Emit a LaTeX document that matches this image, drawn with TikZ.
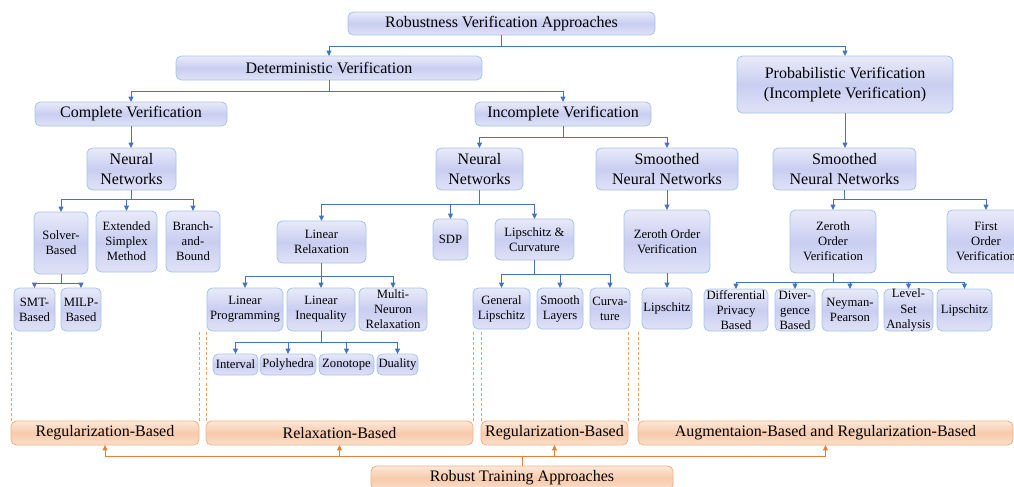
\documentclass[tikz,border=0pt]{standalone}
\usepackage{fontspec}
\setmainfont{Liberation Serif}
\usetikzlibrary{arrows.meta}
\definecolor{bfillA}{HTML}{E9EBF9}
\definecolor{bfillB}{HTML}{C9CEF1}
\definecolor{bdraw}{HTML}{A7C3EA}
\definecolor{bline}{HTML}{4472C4}
\definecolor{ofillA}{HTML}{FCE8DA}
\definecolor{ofillB}{HTML}{F8CAAB}
\definecolor{odraw}{HTML}{F4B183}
\definecolor{oline}{HTML}{ED7D31}
\definecolor{txt}{HTML}{000000}
\tikzset{
  basebox/.style={rounded corners=4pt, inner sep=0pt, outer sep=0pt, align=center, text=txt, line width=0.6pt},
  bbox/.style={basebox, draw=bdraw, top color=bfillA, bottom color=bfillA!70!bfillB, middle color=bfillB},
  obox/.style={basebox, draw=odraw, top color=ofillA, bottom color=ofillA!70!ofillB, middle color=ofillB},
  bigtxt/.style={font=\fontsize{12}{14.5}\selectfont},
  smalltxt/.style={font=\fontsize{9.5}{11.3}\selectfont},
  conn/.style={draw=bline, line width=0.75pt, -{Triangle[length=4pt,width=3.6pt]}},
  oconn/.style={draw=oline, line width=0.75pt, -{Triangle[length=4pt,width=3.6pt]}},
  dashline/.style={draw=oline!75, line width=0.75pt, dash pattern=on 2.2pt off 1.6pt},
}
% \bx{style}{x1}{y1}{x2}{y2}{name}{text}
\newcommand\bx[7]{\node[#1, minimum width={(#4-#2)*0.75pt}, minimum height={(#5-#3)*0.75pt}, anchor=center] (#6) at ({(#2+#4)/2},{(#3+#5)/2}) {#7};}
\begin{document}
\begin{tikzpicture}[x=0.75pt, y=-0.75pt]
\useasboundingbox (0,0) rectangle (1014,486);
% level 0-1
\bx{bbox,bigtxt}{348}{12}{655}{35}{root}{Robustness Verification Approaches}
\bx{bbox,bigtxt}{176}{56}{482}{80}{det}{Deterministic Verification}
\bx{bbox,bigtxt}{737}{56}{953}{113}{prob}{Probabilistic Verification\\(Incomplete Verification)}
\bx{bbox,bigtxt}{35}{102}{227}{126}{comp}{Complete Verification}
\bx{bbox,bigtxt}{475}{102}{651}{126}{incomp}{Incomplete Verification}
% networks
\bx{bbox,bigtxt}{87}{148}{176}{190}{nn1}{Neural\\Networks}
\bx{bbox,bigtxt}{436}{148}{523}{190}{nn2}{Neural\\Networks}
\bx{bbox,bigtxt}{596}{148}{738}{190}{snn1}{Smoothed\\Neural Networks}
\bx{bbox,bigtxt}{773}{148}{916}{190}{snn2}{Smoothed\\Neural Networks}
% complete branch
\bx{bbox,smalltxt}{34}{212}{88}{274}{solver}{Solver-\\Based}
\bx{bbox,smalltxt}{96}{211}{157}{272}{ext}{Extended\\Simplex\\Method}
\bx{bbox,smalltxt}{166}{211}{220}{272}{bnb}{Branch-\\and-\\Bound}
\bx{bbox,smalltxt}{14}{288}{55}{331}{smt}{SMT-\\Based}
\bx{bbox,smalltxt}{61}{288}{101}{331}{milp}{MILP-\\Based}
% incomplete NN branch
\bx{bbox,smalltxt}{277}{221}{366}{263}{linrel}{Linear\\Relaxation}
\bx{bbox,smalltxt}{433}{219}{468}{260}{sdp}{SDP}
\bx{bbox,smalltxt}{495}{219}{574}{260}{lipcurv}{Lipschitz \&\\Curvature}
\bx{bbox,smalltxt}{207}{288}{283}{331}{linprog}{Linear\\Programming}
\bx{bbox,smalltxt}{287}{288}{355}{331}{linineq}{Linear\\Inequality}
\bx{bbox,smalltxt}{359}{288}{427}{331}{multi}{Multi-\\Neuron\\Relaxation}
\bx{bbox,smalltxt}{213}{354}{258}{375}{interval}{Interval}
\bx{bbox,smalltxt}{260}{354}{316}{375}{poly}{Polyhedra}
\bx{bbox,smalltxt}{319}{354}{374}{375}{zono}{Zonotope}
\bx{bbox,smalltxt}{377}{354}{418}{375}{dual}{Duality}
\bx{bbox,smalltxt}{473}{288}{530}{329}{genlip}{General\\Lipschitz}
\bx{bbox,smalltxt}{537}{288}{583}{329}{smooth}{Smooth\\Layers}
\bx{bbox,smalltxt}{590}{288}{630}{329}{curv}{Curva-\\ture}
% smoothed (incomplete)
\bx{bbox,smalltxt}{624}{210}{710}{273}{zero1}{Zeroth Order\\Verification}
\bx{bbox,smalltxt}{642}{288}{692}{329}{lip1}{Lipschitz}
% probabilistic
\bx{bbox,smalltxt}{790}{210}{876}{273}{zero2}{Zeroth\\Order\\Verification}
\bx{bbox,smalltxt}{947}{210}{1025}{273}{first}{First\\Order\\Verification}
\bx{bbox,smalltxt}{704}{289}{768}{331}{dp}{Differential\\Privacy\\Based}
\bx{bbox,smalltxt}{775}{289}{815}{331}{div}{Diver-\\gence\\Based}
\bx{bbox,smalltxt}{822}{289}{878}{331}{np}{Neyman-\\Pearson}
\bx{bbox,smalltxt}{884}{289}{933}{331}{lsa}{Level-\\Set\\Analysis}
\bx{bbox,smalltxt}{937}{289}{992}{331}{lip2}{Lipschitz}
% training
\bx{obox,bigtxt}{11}{421}{199}{445}{reg1}{Regularization-Based}
\bx{obox,bigtxt}{206}{421}{473}{445}{relax}{Relaxation-Based}
\bx{obox,bigtxt}{481}{421}{628}{445}{reg2}{Regularization-Based}
\bx{obox,bigtxt}{638}{421}{1013}{445}{aug}{Augmentaion-Based and Regularization-Based}
\bx{obox,bigtxt}{371}{466}{673}{490}{rta}{Robust Training Approaches}
% blue connectors
\draw[conn] (root.south) -- ++(0,11) -| (det.north);
\draw[conn] (root.south) -- ++(0,11) -| (prob.north);
\draw[conn] (det.south) -- ++(0,11) -| (comp.north);
\draw[conn] (det.south) -- ++(0,11) -| (incomp.north);
\draw[conn] (comp.south) -- (comp.south |- nn1.north);
\draw[conn] (incomp.south) -- ++(0,11) -| (nn2.north);
\draw[conn] (incomp.south) -- ++(0,11) -| (snn1.north);
\draw[conn] (prob.south) -- (prob.south |- snn2.north);
\foreach \c in {solver,ext,bnb} \draw[conn] (nn1.south) -- ++(0,9) -| (\c.north);
\foreach \c in {smt,milp} \draw[conn] (solver.south) -- ++(0,9) -| (\c.north);
\foreach \c in {linrel,sdp,lipcurv} \draw[conn] (nn2.south) -- ++(0,14) -| (\c.north);
\foreach \c in {linprog,linineq,multi} \draw[conn] (linrel.south) -- ++(0,13) -| (\c.north);
\foreach \c in {interval,poly,zono,dual} \draw[conn] (linineq.south) -- ++(0,11) -| (\c.north);
\foreach \c in {genlip,smooth,curv} \draw[conn] (lipcurv.south) -- ++(0,14) -| (\c.north);
\draw[conn] (snn1.south) -- (snn1.south |- zero1.north);
\draw[conn] (zero1.south) -- (zero1.south |- lip1.north);
\foreach \c in {zero2,first} \draw[conn] (snn2.south) -- ++(0,9) -| (\c.north);
\foreach \c in {dp,div,np,lsa,lip2} \draw[conn] (zero2.south) -- ++(0,9) -| (\c.north);
% orange connectors
\foreach \c in {reg1,relax,reg2,aug} \draw[oconn] (rta.north) -- ++(0,-10) -| (\c.south);
% dashed separators
\draw[dashline] (reg1.north west) -- ++(0,-89);
\draw[dashline] (reg1.north east) -- ++(0,-89);
\draw[dashline] (relax.north west) -- ++(0,-89);
\draw[dashline] (relax.north east) -- ++(0,-89);
\draw[dashline] (reg2.north west) -- ++(0,-89);
\draw[dashline] (reg2.north east) -- ++(0,-89);
\draw[dashline] (aug.north west) -- ++(0,-89);
\end{tikzpicture}
\end{document}
